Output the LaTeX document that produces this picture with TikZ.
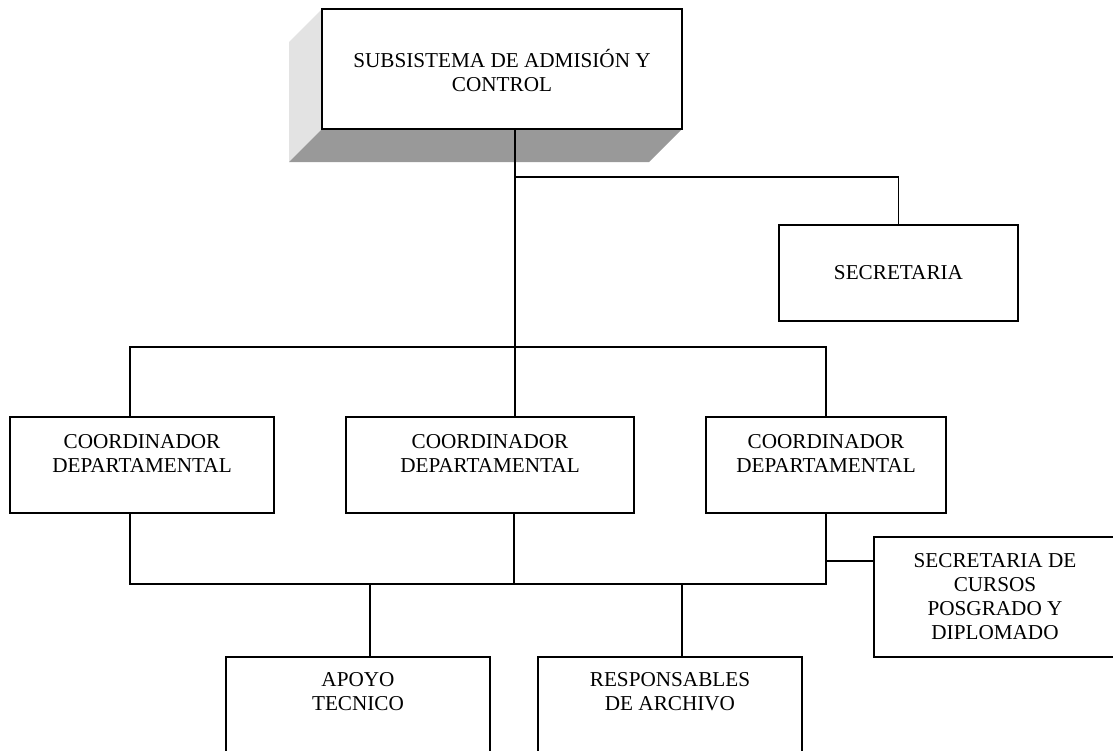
\documentclass[tikz,border=0pt]{standalone}
\usepackage{fontspec}
\setmainfont{Liberation Serif}
\begin{document}
\begin{tikzpicture}[x=1pt,y=-1pt,
  box/.style={draw=black,line width=1.8pt,fill=white,rectangle,inner sep=0pt},
  lbl/.style={align=center,inner sep=0pt,font=\fontsize{21.2}{24}\selectfont},
  link/.style={draw=black,line width=1.8pt}]
\useasboundingbox (0,0) rectangle (1113,750);
\begin{scope}
\clip (0,0) rectangle (1113,750);

% bevelled faces of the head box
\fill[gray!22] (322,9) -- (289,42) -- (289,162) -- (322,129) -- cycle;
\fill[gray!80] (322,129) -- (682,129) -- (649,162) -- (289,162) -- cycle;

% boxes
\node[box,minimum width=360pt,minimum height=120pt] (head) at (502,69) {};
\node[box,minimum width=239pt,minimum height=96pt] (sec) at (898.5,273) {};
\node[box,minimum width=264pt,minimum height=96pt] (c1) at (142,465) {};
\node[box,minimum width=288pt,minimum height=96pt] (c2) at (490,465) {};
\node[box,minimum width=240pt,minimum height=96pt] (c3) at (826,465) {};
\node[box,minimum width=242pt,minimum height=120pt] (scp) at (995,597) {};
\node[box,minimum width=264pt,minimum height=113pt] (apoyo) at (358,713.5) {};
\node[box,minimum width=264pt,minimum height=113pt] (resp) at (670,713.5) {};

% texts
\node[lbl] (headt) at (502,71) {SUBSISTEMA DE ADMISIÓN Y\\CONTROL};
\node[lbl] (sect) at (898.5,273) {SECRETARIA};
\node[lbl] (c1t) at (142,453) {COORDINADOR\\DEPARTAMENTAL};
\node[lbl] (c2t) at (490,453) {COORDINADOR\\DEPARTAMENTAL};
\node[lbl] (c3t) at (826,453) {COORDINADOR\\DEPARTAMENTAL};
\node[lbl] (scpt) at (995,597) {SECRETARIA DE\\CURSOS\\POSGRADO Y\\DIPLOMADO};
\node[lbl] (apoyot) at (358,692) {APOYO\\TECNICO};
\node[lbl] (respt) at (670,692) {RESPONSABLES\\DE ARCHIVO};

% junction points
\coordinate (tsec) at (515,177);
\coordinate (busA) at (515,347);
\coordinate (busB) at (514,584);
\coordinate (tscp) at (826,561);

% connectors
\draw[link] (head.south -| busA) -- (busA);
\draw[link] (tsec) -| (sec.north);
\draw[link] (130,417) |- (busA) -| (826,417);
\draw[link] (busA) -- (c2.north -| busA);
\draw[link] (130,513) |- (busB) -| (826,513);
\draw[link] (c2.south -| busB) -- (busB);
\draw[link] (tscp) -- (scp.west |- tscp);
\draw[link] (370,584) -- (apoyo.north -| 370,0);
\draw[link] (682,584) -- (resp.north -| 682,0);
\end{scope}
\end{tikzpicture}
\end{document}
